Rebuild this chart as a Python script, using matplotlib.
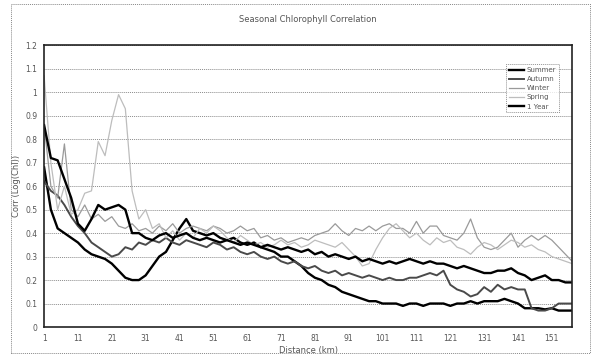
import matplotlib
matplotlib.use("Agg")
import matplotlib.pyplot as plt
from matplotlib.patches import Rectangle

# distance categories (every second one of 1..157)
distance = list(range(1, 158, 2))

summer = [0.68, 0.50, 0.42, 0.40, 0.38, 0.36, 0.33, 0.31, 0.30, 0.29,
          0.27, 0.24, 0.21, 0.20, 0.20, 0.22, 0.26, 0.30, 0.32, 0.37,
          0.42, 0.46, 0.41, 0.40, 0.39, 0.40, 0.38, 0.37, 0.38, 0.36,
          0.35, 0.36, 0.34, 0.33, 0.32, 0.30, 0.30, 0.28, 0.26, 0.23,
          0.21, 0.20, 0.18, 0.17, 0.15, 0.14, 0.13, 0.12, 0.11, 0.11,
          0.10, 0.10, 0.10, 0.09, 0.10, 0.10, 0.09, 0.10, 0.10, 0.10,
          0.09, 0.10, 0.10, 0.11, 0.10, 0.11, 0.11, 0.11, 0.12, 0.11,
          0.10, 0.08, 0.08, 0.08, 0.075, 0.08, 0.07, 0.07, 0.07]

autumn = [0.62, 0.58, 0.56, 0.52, 0.47, 0.43, 0.40, 0.36, 0.34, 0.32,
          0.30, 0.31, 0.34, 0.33, 0.36, 0.35, 0.37, 0.36, 0.38, 0.36,
          0.35, 0.37, 0.36, 0.35, 0.34, 0.36, 0.35, 0.33, 0.34, 0.32,
          0.31, 0.32, 0.30, 0.29, 0.30, 0.28, 0.27, 0.28, 0.26, 0.25,
          0.26, 0.24, 0.23, 0.24, 0.22, 0.23, 0.22, 0.21, 0.22, 0.21,
          0.20, 0.21, 0.20, 0.20, 0.21, 0.21, 0.22, 0.23, 0.22, 0.24,
          0.18, 0.16, 0.15, 0.13, 0.14, 0.17, 0.15, 0.18, 0.16, 0.17,
          0.16, 0.16, 0.08, 0.07, 0.07, 0.08, 0.10, 0.10, 0.10]

winter = [0.86, 0.60, 0.55, 0.78, 0.50, 0.47, 0.52, 0.46, 0.48, 0.45,
          0.47, 0.43, 0.42, 0.44, 0.41, 0.42, 0.40, 0.43, 0.41, 0.44,
          0.40, 0.42, 0.43, 0.42, 0.41, 0.43, 0.42, 0.40, 0.41, 0.43,
          0.41, 0.42, 0.38, 0.39, 0.37, 0.38, 0.36, 0.37, 0.38, 0.37,
          0.39, 0.40, 0.41, 0.44, 0.41, 0.39, 0.42, 0.41, 0.43, 0.41,
          0.43, 0.44, 0.42, 0.42, 0.40, 0.45, 0.40, 0.43, 0.43, 0.39,
          0.38, 0.37, 0.40, 0.46, 0.38, 0.34, 0.33, 0.34, 0.37, 0.40,
          0.34, 0.37, 0.39, 0.37, 0.39, 0.37, 0.34, 0.31, 0.28]

spring = [1.07, 0.70, 0.50, 0.60, 0.48, 0.50, 0.57, 0.58, 0.79, 0.73,
          0.88, 0.99, 0.93, 0.58, 0.46, 0.50, 0.42, 0.44, 0.38, 0.41,
          0.37, 0.40, 0.38, 0.42, 0.40, 0.43, 0.41, 0.38, 0.36, 0.39,
          0.37, 0.35, 0.36, 0.34, 0.35, 0.37, 0.35, 0.36, 0.34, 0.35,
          0.37, 0.36, 0.35, 0.34, 0.36, 0.33, 0.30, 0.26, 0.27, 0.33,
          0.38, 0.42, 0.44, 0.41, 0.38, 0.40, 0.37, 0.35, 0.38, 0.36,
          0.37, 0.34, 0.33, 0.31, 0.34, 0.36, 0.35, 0.33, 0.35, 0.37,
          0.36, 0.34, 0.35, 0.33, 0.32, 0.30, 0.29, 0.28, 0.27]

one_year = [0.86, 0.72, 0.71, 0.63, 0.55, 0.44, 0.41, 0.46, 0.52, 0.50,
            0.51, 0.52, 0.50, 0.40, 0.40, 0.38, 0.37, 0.39, 0.40, 0.38,
            0.39, 0.40, 0.38, 0.37, 0.38, 0.37, 0.36, 0.37, 0.36, 0.35,
            0.36, 0.35, 0.34, 0.35, 0.34, 0.33, 0.34, 0.33, 0.32, 0.33,
            0.31, 0.32, 0.30, 0.31, 0.30, 0.29, 0.30, 0.28, 0.29, 0.28,
            0.27, 0.28, 0.27, 0.28, 0.29, 0.28, 0.27, 0.28, 0.27, 0.27,
            0.26, 0.25, 0.26, 0.25, 0.24, 0.23, 0.23, 0.24, 0.24, 0.25,
            0.23, 0.22, 0.20, 0.21, 0.22, 0.20, 0.20, 0.19, 0.19]

x_ticks = [1, 11, 21, 31, 41, 51, 61, 71, 81, 91, 101, 111, 121, 131, 141, 151]
y_ticks = [0, 0.1, 0.2, 0.3, 0.4, 0.5, 0.6, 0.7, 0.8, 0.9, 1.0, 1.1, 1.2]
y_labels = ["0", "0.1", "0.2", "0.3", "0.4", "0.5", "0.6", "0.7", "0.8", "0.9", "1", "1.1", "1.2"]

txt = "#555555"

fig = plt.figure(figsize=(5.96, 3.57), dpi=100)
ax = fig.add_axes([0.074, 0.084, 0.886, 0.789])

ax.plot(distance, summer, color="black", lw=1.7, label="Summer")
ax.plot(distance, autumn, color="#4a4a4a", lw=1.4, label="Autumn")
ax.plot(distance, winter, color="#9a9a9a", lw=0.9, label="Winter")
ax.plot(distance, spring, color="#bdbdbd", lw=0.9, label="Spring")
ax.plot(distance, one_year, color="black", lw=1.7, label="1 Year")

ax.set_xlim(1, 157)
ax.set_ylim(0, 1.2)
ax.set_yticks(y_ticks)
ax.set_yticklabels(y_labels)
ax.set_xticks(x_ticks)
ax.tick_params(length=0, labelsize=5.5, labelcolor=txt, pad=5)
ax.yaxis.grid(True, linestyle=(0, (1, 1)), color="#8c8c8c", lw=0.7)
ax.set_axisbelow(True)
for s in ax.spines.values():
    s.set_color("#222222")
    s.set_linewidth(1.2)

ax.set_title("Seasonal Chlorophyll Correlation", fontsize=6, color=txt, pad=17)
ax.set_xlabel("Distance (km)", fontsize=6, color=txt, labelpad=2)
ax.set_ylabel("Corr (Log(Chl))", fontsize=6, color=txt, labelpad=3)

leg = ax.legend(loc="upper right", bbox_to_anchor=(0.982, 0.945), fontsize=5,
                frameon=True, fancybox=False, handlelength=2.2, borderpad=0.4,
                labelspacing=0.45, handletextpad=0.4, labelcolor=txt)
leg.get_frame().set_edgecolor("#777777")
leg.get_frame().set_linestyle((0, (1, 1)))
leg.get_frame().set_linewidth(0.7)

# dotted chart-area border
fig.patches.append(Rectangle((11 / 596, 4 / 357), 579 / 596, 349 / 357,
                             transform=fig.transFigure, fill=False,
                             edgecolor="#888888", lw=0.7, linestyle=(0, (1, 1))))

fig.savefig("out.png", dpi=100)
